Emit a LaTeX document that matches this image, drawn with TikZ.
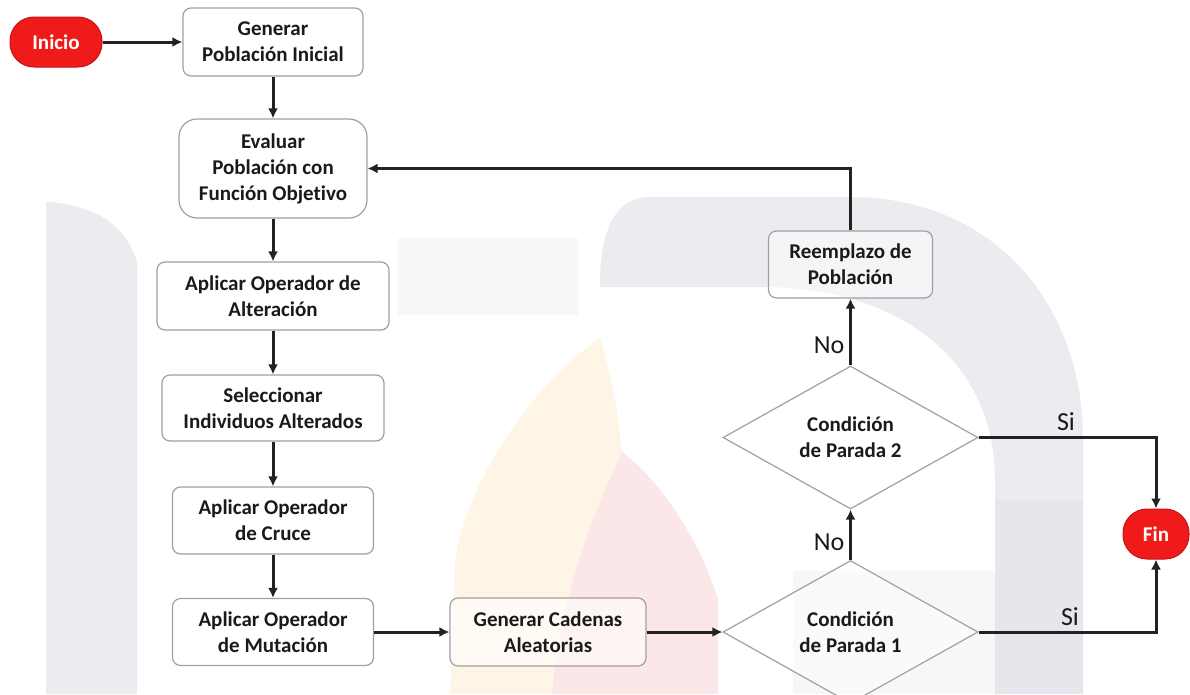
\documentclass[tikz,border=0pt]{standalone}
\usepackage{fontspec}
\setmainfont{Carlito}[Ligatures=NoCommon]
\usetikzlibrary{shapes.geometric,arrows.meta,calc}

\definecolor{boxline}{RGB}{160,160,160}
\definecolor{linecol}{RGB}{34,34,34}
\definecolor{txtcol}{RGB}{26,26,26}
\definecolor{termred}{RGB}{240,26,26}
\definecolor{termedge}{RGB}{200,20,20}
\definecolor{wmgray}{RGB}{235,235,240}
\definecolor{wmgraydark}{RGB}{230,230,236}
\definecolor{wmlight}{RGB}{247,247,249}
\definecolor{wmorange}{RGB}{255,245,230}
\definecolor{wmred}{RGB}{251,231,231}

\newcommand{\boxfont}{\fontsize{21}{26}\selectfont\bfseries}
\newcommand{\lblfont}{\fontsize{26}{30}\selectfont}

\tikzset{
  procbox/.style={draw=boxline, line width=1.2pt, rounded corners=8pt,
    fill=white, fill opacity=0.55, text opacity=1, text=txtcol,
    align=center, inner sep=0pt, font=\boxfont},
  condbox/.style={diamond, draw=boxline, line width=1.2pt, fill=white,
    fill opacity=0.4, text opacity=1, text=txtcol, align=center,
    inner sep=0pt, minimum width=255pt, minimum height=125pt, font=\boxfont},
  termbox/.style={draw=termedge, line width=1pt, fill=termred,
    rounded corners=24pt, text=white, font=\boxfont, inner sep=0pt,
    minimum height=50pt},
  flow/.style={draw=linecol, line width=3pt,
    -{Latex[length=10pt,width=10pt]}},
  lbl/.style={font=\lblfont, text=txtcol, inner sep=0pt}
}

\begin{document}
\begin{tikzpicture}[x=1pt,y=-1pt]
\useasboundingbox (0,0) rectangle (1190,694);
\fill[white] (0,0) rectangle (1190,694);

% faint watermark in the background
\fill[wmlight] (398,238) rectangle (578,315);
\fill[wmlight] (793,571) rectangle (995,694);
\fill[wmgray] (46,694) -- (46,202) .. controls (90,204) and (125,222) .. (137,262) -- (137,694) -- cycle;
\fill[wmgray] (600,287) .. controls (600,240) and (610,197) .. (650,197)
  -- (850,197) .. controls (990,197) and (1083,300) .. (1083,440)
  -- (1083,694) -- (995,694) -- (995,480)
  .. controls (995,360) and (900,290) .. (770,287) -- cycle;
\fill[wmgraydark] (995,500) rectangle (1083,694);
\fill[wmorange] (600,338) .. controls (540,380) and (470,470) .. (455,560)
  -- (450,694) -- (552,694) .. controls (560,600) and (590,520) .. (622,452)
  .. controls (618,410) and (610,370) .. (600,338) -- cycle;
\fill[wmred] (622,452) .. controls (590,520) and (560,600) .. (552,694)
  -- (718,694) -- (718,600) .. controls (700,540) and (660,480) .. (622,452) -- cycle;

% process steps
\node[termbox, minimum width=92pt] (inicio) at (56,42) {Inicio};
\node[procbox, minimum width=180pt, minimum height=68pt] (gen) at (273,42) {Generar\\Población Inicial};
\node[procbox, rounded corners=18pt, minimum width=188pt, minimum height=99pt] (eval) at (273,168.5) {Evaluar\\Población con\\Función Objetivo};
\node[procbox, minimum width=232pt, minimum height=68pt] (alt) at (273,296) {Aplicar Operador de\\Alteración};
\node[procbox, minimum width=222pt, minimum height=66pt] (sel) at (273,408) {Seleccionar\\Individuos Alterados};
\node[procbox, minimum width=201pt, minimum height=67pt] (cruce) at (273,520.5) {Aplicar Operador\\de Cruce};
\node[procbox, minimum width=201pt, minimum height=67pt] (mut) at (273,632) {Aplicar Operador\\de Mutación};
\node[procbox, minimum width=196pt, minimum height=68pt] (cad) at (548,632) {Generar Cadenas\\Aleatorias};
\node[condbox] (c1) at (850.5,632) {Condición\\de Parada 1};
\node[condbox] (c2) at (850.5,437.5) {Condición\\de Parada 2};
\node[procbox, minimum width=164pt, minimum height=67pt] (reem) at (850.5,264.5) {Reemplazo de\\Población};
\node[termbox, minimum width=66pt] (fin) at (1156,534) {Fin};

% connectors
\draw[flow] (inicio) -- (gen);
\draw[flow] (gen) -- (eval);
\draw[flow] (eval) -- (alt);
\draw[flow] (alt) -- (sel);
\draw[flow] (sel) -- (cruce);
\draw[flow] (cruce) -- (mut);
\draw[flow] (mut) -- (cad);
\draw[flow] (cad) -- (c1);
\draw[flow] (c1.north) -- (c2.south);
\draw[flow] (c2.north) -- (reem.south);
\draw[flow] (reem.north) |- (eval.east);
\draw[flow] (c2.east) -| (fin.north);
\draw[flow] (c1.east) -| (fin.south);

% branch labels
\node[lbl] (no1) at (829,542) {No};
\node[lbl] (no2) at (829,345) {No};
\node[lbl] (si2) at (1066,422) {Si};
\node[lbl] (si1) at (1070,617) {Si};
\end{tikzpicture}
\end{document}
